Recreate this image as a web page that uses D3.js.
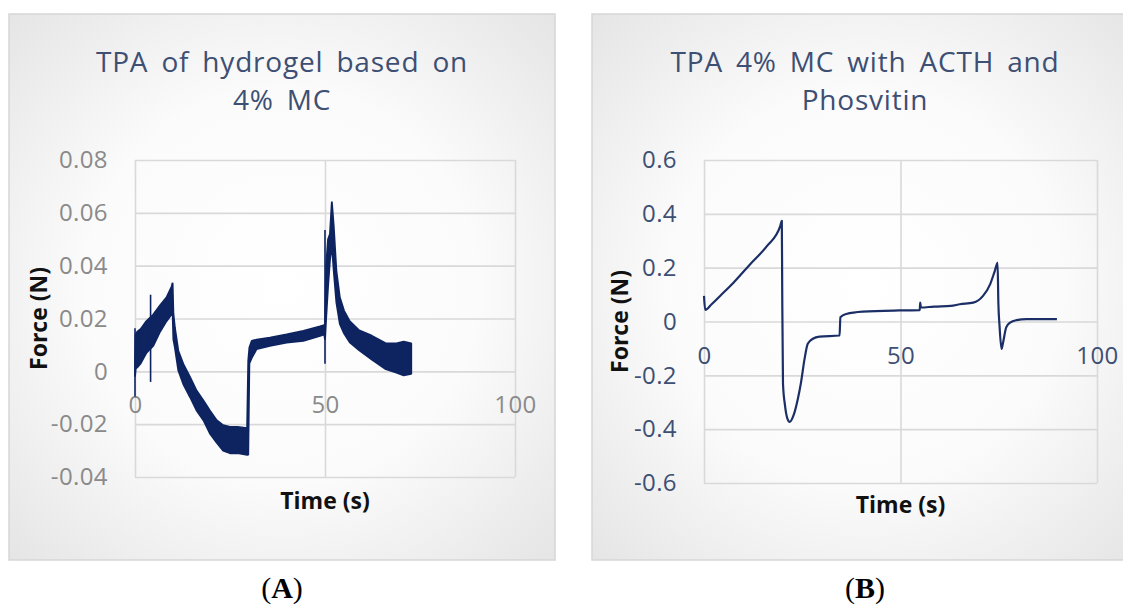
<!DOCTYPE html>
<html>
<head>
<meta charset="utf-8">
<script src="https://cdn.jsdelivr.net/npm/d3@7"></script>
<style>
body { margin: 0; background: #fff; }
</style>
</head>
<body>
<svg id="chart" width="1123" height="612"></svg>
<script>
var aTime = [0, 0.2, 0.6, 1.5, 3.0, 4.8, 6.6, 8.3, 9.6, 9.9, 10.1, 10.5, 11.4, 12.7, 14.5, 16.2, 18, 19.7, 21.5, 23.2, 25, 27, 29.5, 29.8, 30.1, 30.7, 32, 35.5, 39.9, 44.3, 48.7, 49.8, 50.0, 50.3, 50.8, 51.3, 51.8, 52.3, 53.0, 53.9, 55.0, 56.5, 59, 62.3, 66, 68.8, 70.7, 72.7]
var aHigh = [0.004, 0.014, 0.015, 0.016, 0.019, 0.0215, 0.025, 0.028, 0.032, 0.0335, 0.022, 0.0165, 0.0078, 0.0028, -0.0022, -0.0073, -0.011, -0.0148, -0.0185, -0.0204, -0.021, -0.021, -0.0215, 0.004, 0.009, 0.0115, 0.012, 0.0128, 0.014, 0.0153, 0.017, 0.0175, 0.018, 0.04, 0.05, 0.052, 0.0643, 0.055, 0.038, 0.028, 0.023, 0.019, 0.0155, 0.0135, 0.0106, 0.0106, 0.0112, 0.0106]
var aLow = [-0.002, 0.001, 0.0015, 0.003, 0.007, 0.0096, 0.015, 0.019, 0.0215, 0.022, 0.012, 0.009, 0.0003, -0.0048, -0.0098, -0.0148, -0.0185, -0.0235, -0.027, -0.030, -0.031, -0.031, -0.0316, -0.0316, 0.003, 0.005, 0.0084, 0.0096, 0.0109, 0.0115, 0.0134, 0.014, 0.012, 0.02, 0.032, 0.042, 0.048, 0.038, 0.026, 0.018, 0.0144, 0.011, 0.008, 0.0045, 0.0008, -0.0005, -0.0015, -0.001]
// single-sample spikes in panel A
var aSpikeTime = [0, 4.1, 50.0]
var aSpikeLow = [-0.0095, -0.004, 0.0029]
var aSpikeHigh = [0.0163, 0.029, 0.0535]

// panel B
var bTime = [0, 0.3, 2, 4.1, 7.5, 11.7, 16, 19.4, 19.8, 19.9, 20.1, 20.6, 21.2, 21.8, 22.8, 23.9, 24.7, 25.6, 26.4, 27.7, 29.4, 34.5, 34.7, 36.2, 40.4, 49.7, 54.9, 55.0, 55.2, 58.5, 62.8, 65.1, 68.5, 71, 72.8, 74, 74.7, 74.9, 75.2, 75.7, 76.1, 76.9, 77.9, 79.5, 82.1, 89.8]
var bForce = [0.095, 0.043, 0.065, 0.095, 0.144, 0.212, 0.28, 0.354, 0.374, 0.121, -0.231, -0.311, -0.36, -0.373, -0.348, -0.286, -0.225, -0.138, -0.083, -0.064, -0.056, -0.052, 0.016, 0.028, 0.037, 0.041, 0.042, 0.07, 0.052, 0.0555, 0.058, 0.064, 0.07, 0.095, 0.138, 0.188, 0.218, 0.07, -0.016, -0.102, -0.078, -0.022, -0.004, 0.005, 0.009, 0.009]

var xTicks = [0, 50, 100]
var aYTicks = [-0.04, -0.02, 0, 0.02, 0.04, 0.06, 0.08]
var bYTicks = [-0.6, -0.4, -0.2, 0, 0.2, 0.4, 0.6]
var aTitle = ["TPA of hydrogel based on", "4% MC"]
var bTitle = ["TPA 4% MC with ACTH and", "Phosvitin"]
var panelLetters = ["A", "B"]

var svg = d3.select("#chart")

var grad = svg.append("defs").append("radialGradient")
  .attr("id", "bg").attr("cx", "50%").attr("cy", "50%").attr("r", "72%")
grad.append("stop").attr("offset", "0").attr("stop-color", "#ffffff")
grad.append("stop").attr("offset", "0.5").attr("stop-color", "#fbfbfb")
grad.append("stop").attr("offset", "1").attr("stop-color", "#e4e4e4")

var navy = "#0d2461"
var titleColor = "#3d4f73"

var panels = [
  { frame: [9, 14], plot: [135, 160, 380, 317], yTicks: aYTicks, title: aTitle,
    tickColor: "#8a8a8a", yTitleX: 39, xTitleY: 509 },
  { frame: [592, 14], plot: [704, 160, 393, 323], yTicks: bYTicks, title: bTitle,
    tickColor: titleColor, yTitleX: 620, xTitleY: 513 }
]

function fmt(d){
  return d === 0 ? "0" : String(+d.toFixed(2))
}

panels.forEach((p, i)=>{
  var fw = 546, fh = 546
  svg.append("rect")
    .attr("x", p.frame[0]).attr("y", p.frame[1])
    .attr("width", fw).attr("height", fh)
    .attr("fill", "url(#bg)")
    .attr("stroke", "#d6d6d6").attr("stroke-width", 1.5)

  var cx = p.frame[0] + fw / 2
  svg.append("text")
    .attr("x", cx).attr("y", 72)
    .attr("text-anchor", "middle")
    .style("font-family", "'Open Sans', sans-serif")
    .style("font-size", "28px")
    .style("letter-spacing", "0.8px")
    .style("word-spacing", "5px")
    .attr("fill", titleColor)
    .selectAll("tspan").data(p.title).enter()
      .append("tspan")
      .attr("x", cx)
      .attr("dy", (d, j)=>(j ? 38 : 0))
      .text((d)=>d)

  var L = p.plot[0], T = p.plot[1], W = p.plot[2], H = p.plot[3]
  var x = d3.scaleLinear().domain([0, 100]).range([L, L + W])
  var y = d3.scaleLinear().domain(d3.extent(p.yTicks)).range([T + H, T])

  // gridlines
  var gy = svg.append("g").attr("transform", "translate(" + L + ",0)")
    .call(d3.axisLeft(y).tickValues(p.yTicks).tickSize(-W).tickFormat(""))
  var gx = svg.append("g").attr("transform", "translate(0," + (T + H) + ")")
    .call(d3.axisBottom(x).tickValues(xTicks).tickSize(H).tickFormat(""))
  gx.selectAll("line").attr("y2", -H)
  ;[gy, gx].forEach((g)=>{
    g.select(".domain").remove()
    g.selectAll("line").attr("stroke", "#d9d9d9").attr("stroke-width", 1.6)
  })

  // tick labels
  var yl = svg.append("g").attr("transform", "translate(" + L + ",0)")
    .call(d3.axisLeft(y).tickValues(p.yTicks).tickSize(0).tickPadding(27).tickFormat(fmt))
  var xl = svg.append("g").attr("transform", "translate(0," + y(0) + ")")
    .call(d3.axisBottom(x).tickValues(xTicks).tickSize(0).tickPadding(25))
  ;[yl, xl].forEach((g)=>{
    g.select(".domain").remove()
    g.selectAll("text")
      .style("font-family", "'Open Sans', sans-serif")
      .style("font-size", "24px")
      .style("letter-spacing", "0.4px")
      .attr("fill", p.tickColor)
  })

  // axis titles
  svg.append("text")
    .attr("transform", "translate(" + (p.yTitleX + 8) + "," + (T + H / 2) + ") rotate(-90)")
    .attr("text-anchor", "middle")
    .style("font-family", "'Open Sans', sans-serif")
    .style("font-size", "23px").style("font-weight", "bold")
    .attr("fill", "#111")
    .text("Force (N)")
  svg.append("text")
    .attr("x", L + W / 2).attr("y", p.xTitleY)
    .attr("text-anchor", "middle")
    .style("font-family", "'Open Sans', sans-serif")
    .style("font-size", "23px").style("font-weight", "bold")
    .attr("fill", "#111")
    .text("Time (s)")

  // data
  if (i === 0) {
    var band = d3.area()
      .x((d, k)=>x(aTime[k]))
      .y0((d, k)=>y(aLow[k]))
      .y1((d, k)=>y(aHigh[k]))
    svg.append("path")
      .attr("d", band(aTime))
      .attr("fill", navy)
      .attr("stroke", navy).attr("stroke-width", 1.8).attr("stroke-linejoin", "bevel")
    svg.append("g").selectAll("line")
      .data(aSpikeTime).enter()
        .append("line")
        .attr("x1", (d)=>x(d)).attr("x2", (d)=>x(d))
        .attr("y1", (d, k)=>y(aSpikeLow[k]))
        .attr("y2", (d, k)=>y(aSpikeHigh[k]))
        .attr("stroke", navy).attr("stroke-width", 1.6)
  } else {
    var line = d3.line()
      .x((d, k)=>x(bTime[k]))
      .y((d, k)=>y(bForce[k]))
      .curve(d3.curveMonotoneX)
    svg.append("path")
      .attr("d", line(bTime))
      .attr("fill", "none")
      .attr("stroke", "#1b2f66").attr("stroke-width", 2.2)
      .attr("stroke-linejoin", "round")
  }

  // panel letter
  var lt = svg.append("text")
    .attr("x", cx).attr("y", 598)
    .attr("text-anchor", "middle")
    .style("font-family", "'Liberation Serif', serif")
    .style("font-size", "30px")
    .attr("fill", "#000")
  lt.append("tspan").text("(")
  lt.append("tspan").style("font-weight", "bold").text(panelLetters[i])
  lt.append("tspan").text(")")
})
</script>
</body>
</html>
